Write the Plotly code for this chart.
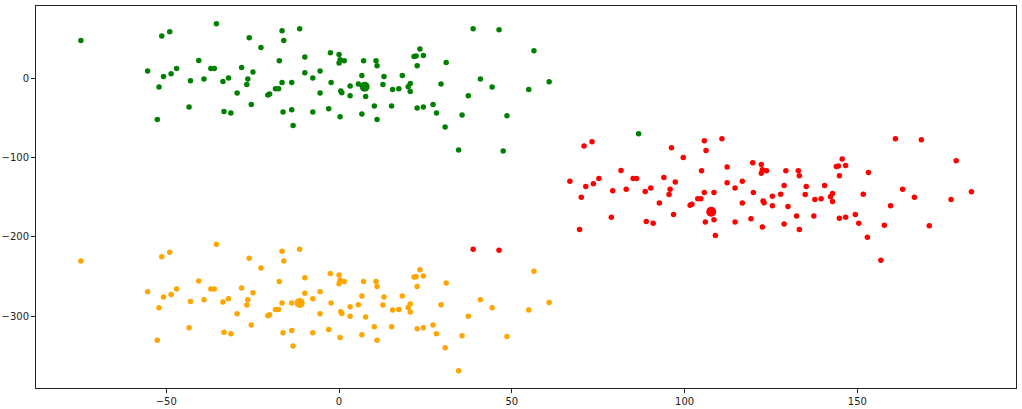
import plotly.graph_objects as go

green_x = [-74.7, -51.3, -49.0, -35.5, -26.0, -16.5, -11.4, -22.6, -16.0, -40.6,
           -55.4, -47.0, -48.6, -50.8, -52.1, -37.1, -36.1, -43.0, -39.1, -28.2,
           -24.9, -33.6, -32.0, -26.4, -26.7, -29.5, -17.3, -16.5, -13.7, -18.4,
           -17.5, -20.6, -20.1, -43.4, -33.3, -31.3, -25.4, -16.2, -13.7, -13.3,
           -52.6, -9.9, -2.5, 0.0, 0.3, 1.5, 0.0, 7.1, 10.7, 11.0,
           23.4, 21.7, 22.3, 24.4, 22.6, 31.0, 38.8, 46.3, 56.4, -9.9,
           -7.6, -5.5, -2.3, -5.5, 0.5, 0.8, 3.2, 3.2, 5.6, 6.6,
           7.7, 13.0, 12.7, 15.5, 17.3, 18.3, 20.6, 20.0, 20.6, 29.5,
           40.9, 44.3, 37.4, 54.9, 60.8, -7.6, -3.0, 0.3, 6.6, 10.2,
           11.0, 15.2, 22.6, 24.4, 27.2, 28.2, 35.6, 48.6, 30.7, 34.6,
           47.5, 86.7]
green_y = [48.0, 53.5, 59.0, 69.1, 51.4, 60.2, 62.8, 39.1, 48.0, 22.7,
           9.3, 12.6, 5.9, 2.5, -10.9, 12.6, 12.6, -2.9, -0.8, 13.9,
           8.1, -3.8, 0.5, -0.8, -7.6, -18.4, 22.3, -5.1, -5.1, -13.0,
           -13.0, -21.0, -19.7, -36.1, -41.7, -43.7, -32.8, -42.4, -39.5, -59.3,
           -51.8, 27.0, 32.4, 30.3, 23.6, 22.3, 19.4, 22.3, 22.3, 16.0,
           37.1, 27.8, 28.3, 29.0, 16.0, 20.2, 62.8, 61.5, 35.0, 7.2,
           0.5, 9.3, -5.1, -18.4, -15.9, -18.1, -9.6, -21.8, -7.1, 3.8,
           -22.7, 2.5, -7.6, -13.9, -13.0, 3.8, -6.3, -10.5, -16.4, -7.1,
           -0.8, -10.9, -21.8, -13.9, -4.2, -42.4, -38.3, -48.4, -44.9, -34.8,
           -51.8, -34.8, -37.4, -36.1, -32.8, -43.7, -46.2, -47.1, -61.4, -90.4,
           -91.7, -69.8]

orange_x = [-74.7, -51.3, -49.0, -35.5, -26.0, -16.5, -11.4, -22.6, -16.0, -40.6,
            -55.4, -47.0, -48.6, -50.8, -52.1, -37.1, -36.1, -43.0, -39.1, -28.2,
            -24.9, -33.6, -32.0, -26.4, -26.7, -29.5, -17.3, -16.5, -13.7, -18.4,
            -17.5, -20.6, -20.1, -43.4, -33.3, -31.3, -25.4, -16.2, -13.7, -13.3,
            -52.6, -9.9, -2.5, 0.0, 0.3, 1.5, 0.0, 7.1, 10.7, 11.0,
            23.4, 21.7, 22.3, 24.4, 22.6, 31.0, 56.4, -9.9,
            -7.6, -5.5, -2.3, -5.5, 0.5, 0.8, 3.2, 3.2, 5.6, 6.6,
            7.7, 13.0, 12.7, 15.5, 17.3, 18.3, 20.6, 20.0, 20.6, 29.5,
            40.9, 44.3, 37.4, 54.9, 60.8, -7.6, -3.0, 0.3, 6.6, 10.2,
            11.0, 15.2, 22.6, 24.4, 27.2, 28.2, 35.6, 48.6, 30.7, 34.6]
orange_y = [-230.4, -224.9, -219.4, -209.3, -227.0, -218.2, -215.6, -239.3, -230.4, -255.7,
            -269.1, -265.8, -272.5, -275.9, -289.3, -265.8, -265.8, -281.3, -279.2, -264.5,
            -270.3, -282.2, -277.9, -279.2, -286.0, -296.8, -256.1, -283.5, -283.5, -291.4,
            -291.4, -299.4, -298.1, -314.5, -320.1, -322.1, -311.2, -320.8, -317.9, -337.7,
            -330.2, -251.4, -246.0, -248.1, -254.8, -256.1, -259.0, -256.1, -256.1, -262.4,
            -241.3, -250.6, -250.1, -249.4, -262.4, -258.2, -243.4, -271.2,
            -277.9, -269.1, -283.5, -296.8, -294.3, -296.5, -288.0, -300.2, -285.5, -274.6,
            -301.1, -275.9, -286.0, -292.3, -291.4, -274.6, -284.7, -288.9, -294.8, -285.5,
            -279.2, -289.3, -300.2, -292.3, -282.6, -320.8, -316.7, -326.8, -323.3, -313.2,
            -330.2, -313.2, -315.8, -314.5, -311.2, -322.1, -324.6, -325.5, -339.8, -368.8]

red_x = [38.8, 46.3,
         70.9, 73.2,
         96.2, 105.7, 110.8, 99.6, 106.2, 81.6,
         66.8, 75.2, 73.6, 71.4, 70.1, 85.1, 86.1, 79.2, 83.1, 94.0,
         97.3, 88.6, 90.2, 95.8, 95.5, 92.7, 104.9, 105.7, 108.5, 103.8,
         104.7, 101.6, 102.1, 78.8, 88.9, 90.9, 96.8, 106.0, 108.5, 108.9,
         69.6, 112.3, 119.7, 122.2, 122.5, 123.7, 122.2, 129.3, 132.9, 133.2,
         145.6, 143.9, 144.5, 146.6, 144.8, 153.2, 161.0, 168.5, 178.6, 112.3,
         114.6, 116.7, 119.9, 116.7, 122.7, 123.0, 125.4, 125.4, 127.8, 128.8,
         129.9, 135.2, 134.9, 137.7, 139.5, 140.5, 142.8, 142.2, 142.8, 151.7,
         163.1, 166.5, 159.6, 177.1, 183.0, 114.6, 119.2, 122.5, 128.8, 132.4,
         133.2, 137.4, 144.8, 146.6, 149.4, 150.4, 157.8, 170.8, 152.9, 156.8]
red_y = [-215.6, -216.9,
         -85.4, -79.9,
         -87.5, -78.7, -76.1, -99.8, -90.9, -116.2,
         -129.6, -126.3, -133.0, -136.4, -149.8, -126.3, -126.3, -141.8, -139.7, -125.0,
         -130.8, -142.7, -138.4, -139.7, -146.5, -157.3, -116.6, -144.0, -144.0, -151.9,
         -151.9, -159.9, -158.6, -175.0, -180.6, -182.6, -171.7, -181.3, -178.4, -198.2,
         -190.7, -111.9, -106.5, -108.6, -115.3, -116.6, -119.5, -116.6, -116.6, -122.9,
         -101.8, -111.1, -110.6, -109.9, -122.9, -118.7, -76.1, -77.4, -103.9, -131.7,
         -138.4, -129.6, -144.0, -157.3, -154.8, -157.0, -148.5, -160.7, -146.0, -135.1,
         -161.6, -136.4, -146.5, -152.8, -151.9, -135.1, -145.2, -149.4, -155.3, -146.0,
         -139.7, -149.8, -160.7, -152.8, -143.1, -181.3, -177.2, -187.3, -183.8, -173.7,
         -190.7, -173.7, -176.3, -175.0, -171.7, -182.6, -185.1, -186.0, -200.3, -229.3]

centroid_x = [7.4, -11.4, 107.7]
centroid_y = [-10.5, -283.2, -168.3]
centroid_colors = ["green", "orange", "red"]

x_ticks = [-50, 0, 50, 100, 150]
y_ticks = [0, -100, -200, -300]

fig = go.Figure()
for xs, ys, col in [(green_x, green_y, "green"), (orange_x, orange_y, "orange"), (red_x, red_y, "red")]:
    fig.add_trace(go.Scatter(x=xs, y=ys, mode="markers",
                             marker=dict(color=col, size=5.5, line=dict(width=0)),
                             showlegend=False, hoverinfo="x+y"))
fig.add_trace(go.Scatter(x=centroid_x, y=centroid_y, mode="markers",
                         marker=dict(color=centroid_colors, size=10, line=dict(width=0)),
                         showlegend=False))

axis_common = dict(showgrid=False, zeroline=False, showline=True, linecolor="#222",
                   linewidth=1, mirror=True, ticks="outside", ticklen=4, tickwidth=1,
                   tickcolor="#222", automargin=False,
                   tickfont=dict(family="DejaVu Sans", size=10, color="#222"))
fig.update_xaxes(range=[-87.7, 195.9], tickvals=x_ticks, **axis_common)
fig.update_yaxes(range=[-390.6, 91.4], tickvals=y_ticks, **axis_common)
fig.update_layout(width=1022, height=409, margin=dict(l=36, r=6, t=6, b=21),
                  paper_bgcolor="white", plot_bgcolor="white")
fig.write_html("out.html", config={"displayModeBar": False},
               post_script="document.body.style.margin='0';document.body.style.overflow='hidden';")
